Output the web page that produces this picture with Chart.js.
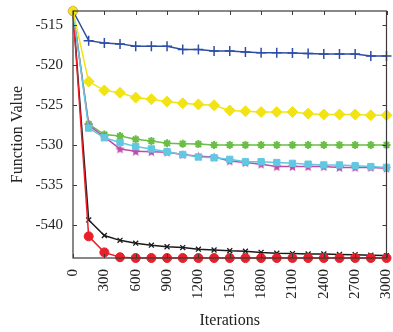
<!DOCTYPE html>
<html>
<head>
<meta charset="utf-8">
<script src="https://cdn.jsdelivr.net/npm/chart.js@4/dist/chart.umd.min.js"></script>
<style>
  html, body { margin: 0; padding: 0; background: #fff; }
  #c { display: block; }
</style>
</head>
<body>
<canvas id="c" width="393" height="332"></canvas>
<script>
// Iteration counts (x) and the objective value recorded by each run (y)
const iterations = [0, 150, 300, 450, 600, 750, 900, 1050, 1200, 1350, 1500,
                    1650, 1800, 1950, 2100, 2250, 2400, 2550, 2700, 2850, 3000];

const blueRun    = [-513.3, -517.0, -517.3, -517.4, -517.7, -517.7, -517.7, -518.1, -518.1, -518.3, -518.3,
                    -518.4, -518.5, -518.5, -518.55, -518.6, -518.65, -518.65, -518.65, -518.9, -518.9];
const yellowRun  = [-513.3, -522.1, -523.2, -523.5, -524.1, -524.3, -524.6, -524.8, -524.95, -525.05, -525.7,
                    -525.8, -525.9, -525.9, -525.9, -526.1, -526.2, -526.2, -526.2, -526.3, -526.3];
const greenRun   = [-513.3, -527.4, -528.7, -528.9, -529.3, -529.5, -529.8, -529.85, -529.9, -530.0, -530.0,
                    -530.0, -530.0, -530.0, -530.0, -530.0, -530.0, -530.0, -530.0, -530.0, -530.0];
const magentaRun = [-513.3, -527.55, -529.0, -530.5, -530.8, -530.85, -530.9, -531.2, -531.4, -531.5, -532.0,
                    -532.2, -532.4, -532.7, -532.7, -532.7, -532.7, -532.8, -532.8, -532.8, -532.9];
const cyanRun    = [-513.3, -527.9, -529.1, -529.7, -530.2, -530.5, -530.85, -531.2, -531.5, -531.6, -531.8,
                    -532.1, -532.1, -532.2, -532.3, -532.4, -532.5, -532.5, -532.6, -532.7, -532.8];
const blackRun   = [-513.3, -539.35, -541.3, -541.9, -542.25, -542.5, -542.7, -542.8, -543.0, -543.1, -543.2,
                    -543.25, -543.4, -543.5, -543.55, -543.6, -543.6, -543.65, -543.7, -543.75, -543.8];
const redRun     = [-513.3, -541.4, -543.4, -544.0, -544.1, -544.1, -544.1, -544.1, -544.1, -544.1, -544.1,
                    -544.1, -544.1, -544.1, -544.1, -544.1, -544.1, -544.1, -544.1, -544.1, -544.1];

const xTicks = [0, 300, 600, 900, 1200, 1500, 1800, 2100, 2400, 2700, 3000];
const yTicks = [-540, -535, -530, -525, -520, -515];

const FONT = '"Liberation Serif", "Times New Roman", serif';

// five-pointed star marker
function starMarker(fill, size) {
  const cv = document.createElement('canvas');
  cv.width = size; cv.height = size;
  const g = cv.getContext('2d');
  const cx = size / 2, cy = size / 2 + 0.5, R = size / 2 - 0.5, r = R * 0.45;
  g.beginPath();
  for (let i = 0; i < 10; i++) {
    const a = -Math.PI / 2 + i * Math.PI / 5;
    const rad = i % 2 === 0 ? R : r;
    g.lineTo(cx + rad * Math.cos(a), cy + rad * Math.sin(a));
  }
  g.closePath();
  g.fillStyle = fill;
  g.fill();
  return cv;
}

function toPoints(ys) {
  return ys.map((y, i) => ({ x: iterations[i], y: y }));
}

function series(data, color, style, radius, bw, extra) {
  return Object.assign({
    data: toPoints(data),
    borderColor: color,
    backgroundColor: color,
    pointBackgroundColor: color,
    pointBorderColor: color,
    pointStyle: style,
    pointRadius: radius,
    pointBorderWidth: bw,
    borderWidth: 1.5,
    tension: 0,
    clip: false
  }, extra || {});
}

// frame and inward tick marks on all four sides
const framePlugin = {
  id: 'frame',
  afterDatasetsDraw(chart) {
    const { ctx, chartArea: a, scales: { x, y } } = chart;
    ctx.save();
    ctx.strokeStyle = '#3a3a3a';
    ctx.lineWidth = 1.2;
    ctx.strokeRect(a.left, a.top, a.right - a.left, a.bottom - a.top);
    ctx.lineWidth = 1;
    const L = 4;
    ctx.beginPath();
    xTicks.forEach(v => {
      const px = Math.round(x.getPixelForValue(v)) + 0.5;
      ctx.moveTo(px, a.top); ctx.lineTo(px, a.top + L);
      ctx.moveTo(px, a.bottom); ctx.lineTo(px, a.bottom - L);
    });
    yTicks.forEach(v => {
      const py = Math.round(y.getPixelForValue(v)) + 0.5;
      ctx.moveTo(a.left, py); ctx.lineTo(a.left + L, py);
      ctx.moveTo(a.right, py); ctx.lineTo(a.right - L, py);
    });
    ctx.stroke();
    ctx.restore();
  }
};

new Chart(document.getElementById('c'), {
  type: 'line',
  data: {
    datasets: [
      series(yellowRun, '#f2e414', 'rectRot', 5.5, 1),
      series(blueRun, '#2e4ea6', 'cross', 5, 1.5),
      series(cyanRun, '#62c8e2', 'rect', 4.5, 1),
      series(magentaRun, '#c04ca8', starMarker('#c04ca8', 11), 5, 1),
      series(greenRun, '#6abd45', 'star', 4, 2),
      series(redRun, '#e8202a', 'circle', 4.5, 1),
      series(blackRun, '#1a1a1a', 'crossRot', 3.5, 1.3)
    ]
  },
  options: {
    responsive: false,
    animation: false,
    devicePixelRatio: 1,
    layout: { padding: { top: 11, right: 2, left: 0, bottom: 0 } },
    plugins: { legend: { display: false }, tooltip: { enabled: false } },
    scales: {
      x: {
        type: 'linear',
        min: 0,
        max: 3000,
        grid: { display: false, drawTicks: false },
        border: { display: false },
        afterBuildTicks(s) { s.ticks = xTicks.map(v => ({ value: v })); },
        afterFit(s) { s.height = 74; s.paddingLeft = 0; s.paddingRight = 0; },
        ticks: {
          autoSkip: false,
          minRotation: 90,
          maxRotation: 90,
          padding: 11,
          color: '#222',
          font: { family: FONT, size: 15 },
          callback: v => String(v)
        },
        title: {
          display: true,
          text: 'Iterations',
          color: '#222',
          font: { family: FONT, size: 16 },
          padding: { top: 0, bottom: 2 }
        }
      },
      y: {
        type: 'linear',
        min: -544.1,
        max: -513.3,
        grid: { display: false, drawTicks: false },
        border: { display: false },
        afterBuildTicks(s) { s.ticks = yTicks.map(v => ({ value: v })); },
        afterFit(s) { s.width = 73; s.paddingTop = 0; s.paddingBottom = 0; },
        ticks: {
          padding: 10,
          color: '#222',
          font: { family: FONT, size: 15 },
          callback: v => String(v)
        },
        title: {
          display: true,
          text: 'Function Value',
          color: '#222',
          font: { family: FONT, size: 16 },
          padding: { top: 8, bottom: 0 }
        }
      }
    }
  },
  plugins: [framePlugin]
});
</script>
</body>
</html>
